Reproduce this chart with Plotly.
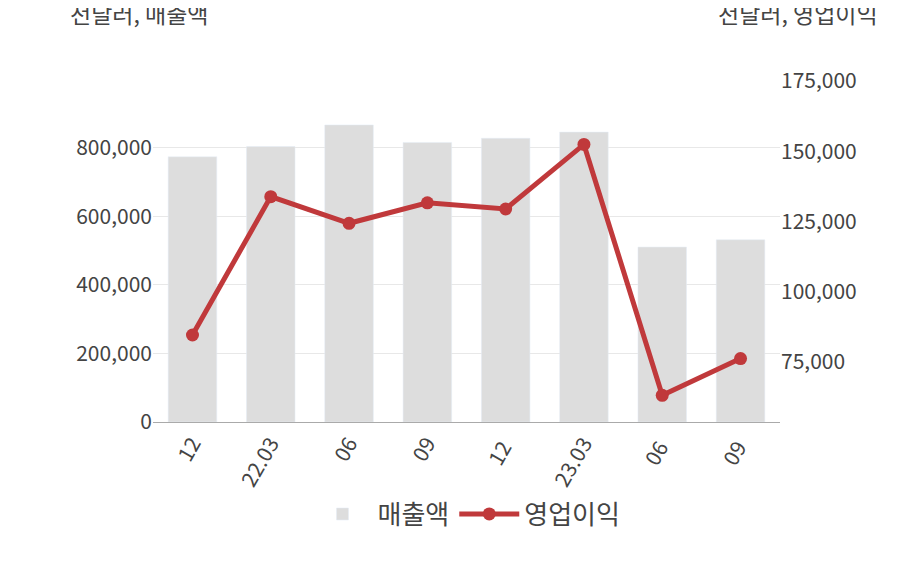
import plotly.graph_objects as go

categories = ["12", "22.03", "06", "09", "12 ", "23.03", "06 ", "09 "]
sales = [773000, 803000, 866000, 815000, 827000, 845000, 510000, 531000]
op_income = [84500, 133800, 124300, 131600, 129400, 152400, 63000, 76100]

font = "Noto Sans CJK KR"
fig = go.Figure()
fig.add_trace(go.Bar(x=categories, y=sales, name="매출액", marker_color="#dddddd", width=0.62))
fig.add_trace(go.Scatter(x=categories, y=op_income, name="영업이익", yaxis="y2",
                         mode="lines+markers", line=dict(color="#c0393b", width=5),
                         marker=dict(size=13, color="#c0393b")))
fig.update_layout(
    width=908, height=580, plot_bgcolor="white", paper_bgcolor="white",
    margin=dict(l=145, r=136, t=73, b=174),
    font=dict(family=font, size=21, color="#444"),
    xaxis=dict(tickangle=-60, showline=True, linecolor="#aaa", ticks="", tickfont=dict(size=21)),
    yaxis=dict(range=[0, 994000], tickvals=[0, 200000, 400000, 600000, 800000],
               tickformat=",", gridcolor="#e8e8e8", zeroline=False, tickfont=dict(size=21)),
    yaxis2=dict(overlaying="y", side="right", range=[53500, 175000],
                tickvals=[75000, 100000, 125000, 150000, 175000], tickformat=",",
                showgrid=False, zeroline=False, tickfont=dict(size=21)),
    legend=dict(orientation="h", x=0.5, xanchor="center", y=-0.27, yanchor="middle",
                font=dict(size=26), itemwidth=60),
)
fig.update_layout(margin=dict(b=166))
fig.add_annotation(text="천달러, 매출액", xref="paper", yref="paper", x=-0.135, y=1.2,
                   xanchor="left", yanchor="middle", showarrow=False, font=dict(size=23))
fig.add_annotation(text="천달러, 영업이익", xref="paper", yref="paper", x=1.16, y=1.2,
                   xanchor="right", yanchor="middle", showarrow=False, font=dict(size=23))
fig.write_html("out.html")
